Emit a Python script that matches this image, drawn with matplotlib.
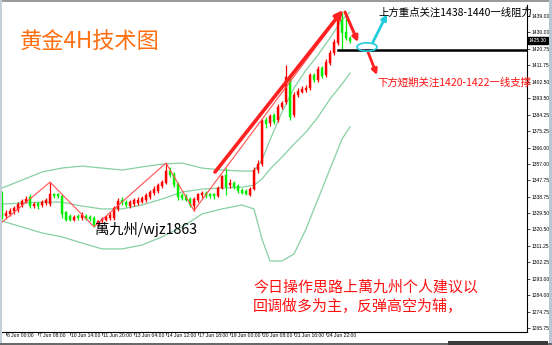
import matplotlib
matplotlib.use("Agg")
import matplotlib.pyplot as plt
from matplotlib.patches import Rectangle, Ellipse
from matplotlib.transforms import blended_transform_factory

plt.rcParams['font.family'] = ['Noto Sans CJK SC', 'DejaVu Sans']

# ---- 4H XAUUSD candles (index 0 = first visible bar) ----
opens = [1334.0, 1328.0, 1329.0, 1330.5, 1331.5, 1334.0, 1336.0, 1338.5, 1333.5, 1335.0,
         1334.0, 1335.0, 1334.5, 1340.0, 1340.0, 1339.0, 1330.0, 1328.0, 1326.0, 1328.0,
         1327.0, 1328.0, 1327.5, 1327.0, 1323.5, 1325.0, 1326.0, 1327.0, 1327.0, 1332.0,
         1337.0, 1336.0, 1333.5, 1334.5, 1335.0, 1336.0, 1337.0, 1338.5, 1340.5, 1342.0,
         1344.5, 1346.5, 1353.0, 1351.5, 1346.0, 1339.5, 1339.0, 1337.5, 1333.5, 1337.0,
         1339.5, 1341.0, 1340.0, 1340.0, 1339.0, 1343.5, 1350.5, 1345.0, 1346.5, 1344.5,
         1342.5, 1342.0, 1339.5, 1343.0, 1353.5, 1357.0, 1381.0, 1379.5, 1384.0, 1381.0,
         1388.5, 1391.0, 1405.0, 1384.0, 1395.0, 1397.0, 1398.0, 1399.0, 1406.0, 1403.5,
         1410.0, 1406.0, 1413.0, 1418.5, 1424.0, 1436.5, 1430.0, 1427.0]
highs = [1342.0, 1331.3, 1332.5, 1333.5, 1336.0, 1337.5, 1339.0, 1340.0, 1336.0, 1336.0,
         1337.0, 1338.0, 1346.8, 1341.0, 1340.5, 1340.0, 1331.0, 1329.0, 1328.5, 1329.0,
         1330.0, 1329.0, 1328.5, 1328.0, 1326.0, 1327.5, 1328.5, 1330.0, 1333.5, 1338.0,
         1338.5, 1337.0, 1337.0, 1338.0, 1338.5, 1339.0, 1341.0, 1342.5, 1344.5, 1346.5,
         1348.0, 1357.4, 1355.0, 1352.5, 1347.0, 1341.0, 1340.0, 1338.5, 1338.5, 1341.0,
         1342.0, 1342.0, 1341.0, 1341.0, 1344.5, 1351.0, 1354.5, 1348.5, 1347.5, 1345.5,
         1343.5, 1343.0, 1344.0, 1355.0, 1359.0, 1382.0, 1383.0, 1384.5, 1385.0, 1390.0,
         1392.0, 1411.8, 1406.0, 1397.0, 1399.0, 1400.0, 1400.5, 1407.5, 1407.5, 1411.0,
         1411.0, 1415.0, 1420.0, 1426.0, 1438.0, 1441.2, 1439.0, 1428.0]
lows = [1326.3, 1326.8, 1328.0, 1329.0, 1330.0, 1333.0, 1335.0, 1332.5, 1332.5, 1332.0,
        1333.0, 1334.0, 1333.5, 1338.0, 1338.0, 1327.0, 1325.0, 1325.0, 1325.0, 1326.0,
        1326.0, 1325.5, 1325.0, 1322.0, 1322.5, 1324.0, 1325.0, 1326.0, 1325.5, 1331.0,
        1334.0, 1333.0, 1332.5, 1333.5, 1334.0, 1335.0, 1336.0, 1337.5, 1339.5, 1341.0,
        1343.5, 1345.5, 1349.5, 1344.0, 1337.0, 1337.0, 1336.5, 1333.0, 1331.0, 1336.0,
        1338.0, 1338.0, 1338.0, 1337.5, 1338.5, 1343.0, 1339.5, 1343.5, 1343.0, 1341.0,
        1340.0, 1339.5, 1339.0, 1342.5, 1352.0, 1356.0, 1377.0, 1378.0, 1379.0, 1380.0,
        1387.5, 1390.0, 1381.5, 1383.0, 1394.0, 1396.0, 1397.0, 1398.0, 1402.5, 1402.5,
        1404.5, 1405.0, 1412.0, 1417.5, 1423.0, 1420.5, 1425.5, 1424.0]
closes = [1327.5, 1329.6, 1331.0, 1332.5, 1334.5, 1336.5, 1337.5, 1333.5, 1334.5, 1333.5,
          1335.5, 1337.0, 1340.0, 1339.0, 1339.0, 1329.0, 1326.0, 1326.0, 1327.5, 1327.0,
          1328.5, 1326.5, 1326.5, 1323.0, 1325.0, 1326.5, 1327.5, 1328.5, 1332.5, 1336.5,
          1335.0, 1334.0, 1335.5, 1337.0, 1337.0, 1338.0, 1339.5, 1341.5, 1343.0, 1345.0,
          1347.0, 1353.0, 1351.0, 1345.0, 1338.5, 1338.0, 1337.0, 1334.0, 1337.5, 1340.0,
          1341.0, 1339.0, 1339.0, 1339.0, 1343.5, 1350.0, 1344.0, 1346.5, 1344.0, 1342.0,
          1340.5, 1340.0, 1343.0, 1353.5, 1357.0, 1380.5, 1379.0, 1383.5, 1380.0, 1388.5,
          1390.5, 1405.0, 1383.0, 1395.0, 1397.5, 1398.5, 1399.0, 1406.0, 1403.5, 1409.5,
          1405.5, 1413.5, 1418.5, 1424.5, 1436.5, 1429.5, 1427.0, 1425.3]

# ---- Bollinger band lines (bar index, price) ----
band_idx = [0, 5, 10, 15, 20, 25, 30, 35, 40, 45, 50, 55, 60, 63, 65, 67, 70, 73, 76, 79, 82, 85, 87]
band_upper = [1343.5, 1347.9, 1352.4, 1354.6, 1355.7, 1354.6, 1353.5, 1355.2, 1356.8, 1357.4,
              1354.6, 1353.5, 1352.9, 1352.9, 1359.1, 1370.2, 1385.7, 1399.0, 1409.0, 1417.3,
              1426.8, 1436.8, 1441.2]
band_middle = [1334.6, 1335.2, 1335.7, 1335.7, 1333.5, 1331.9, 1331.9, 1334.1, 1337.4, 1341.3,
               1342.9, 1343.5, 1344.0, 1345.1, 1348.5, 1354.0, 1360.7, 1367.9, 1374.6, 1382.9,
               1392.9, 1401.2, 1407.3]
band_lower = [1325.2, 1321.9, 1318.6, 1316.4, 1313.0, 1309.7, 1309.7, 1311.9, 1316.4, 1321.9,
              1329.1, 1331.9, 1334.1, 1331.9, 1315.2, 1303.0, 1303.0, 1306.9, 1320.7, 1337.4,
              1354.0, 1370.7, 1377.4]

# ---- ZigZag swing points ----
zz_idx = [0, 12, 23, 41, 48, 85]
zz_price = [1324.5, 1346.8, 1322.0, 1357.4, 1331.0, 1441.2]

# ---- axis labels ----
y_ticks = [1265.75, 1274.75, 1284.00, 1293.00, 1302.25, 1311.25, 1320.50, 1329.50, 1338.75,
           1347.75, 1357.00, 1366.00, 1375.25, 1384.25, 1393.50, 1402.50, 1411.75, 1420.75,
           1430.00, 1439.00]
x_tick_idx = [1, 9, 17, 25, 33, 41, 49, 57, 65, 73, 81]
x_tick_labels = ["6 Jun 00:00", "7 Jun 08:00", "10 Jun 14:00", "11 Jun 20:00", "13 Jun 04:00",
                 "14 Jun 12:00", "17 Jun 18:00", "19 Jun 00:00", "20 Jun 08:00",
                 "21 Jun 16:00", "24 Jun 22:00"]
last_price_label = "1425.30"
support_level = 1420.0

W, H = 552, 345
fig = plt.figure(figsize=(W / 100, H / 100), dpi=100)
fig.patch.set_facecolor("white")
ax = fig.add_axes([0, 1 - 332 / H, 527 / W, (332 - 5) / H])
ax.set_facecolor("white")
ax.set_xlim(-0.5, 131.25)
ax.set_ylim(1263.6, 1445.1)

UP = "#FF0000"
DOWN = "#00EE00"
BAND = "#86D0A2"

# bands
for series in (band_upper, band_middle, band_lower):
    ax.plot(band_idx, series, color=BAND, lw=0.9, zorder=1)

# candles
n = len(closes)
for i in range(n):
    c = UP if closes[i] >= opens[i] else DOWN
    ax.vlines(i, lows[i], highs[i], color=c, lw=0.9, zorder=3)
    lo, hi = min(opens[i], closes[i]), max(opens[i], closes[i])
    ax.add_patch(Rectangle((i - 0.36, lo), 0.72, max(hi - lo, 0.4), facecolor=c,
                           edgecolor=c, lw=0.3, zorder=4))

# zigzag
ax.plot(zz_idx, zz_price, color="#FF5050", lw=0.8, zorder=5)

# support line
ax.plot([84, 131.25], [support_level, support_level], color="black", lw=1.8, zorder=6)

# drawn arrows
def arrow(x0, y0, x1, y1, color, lw, ms):
    ax.annotate("", xy=(x1, y1), xytext=(x0, y0),
                arrowprops=dict(arrowstyle="-|>", color=color, lw=lw,
                                mutation_scale=ms, shrinkA=0, shrinkB=0), zorder=7)

arrow(53.25, 1352.4, 85.25, 1442.3, "#FF2020", 2.6, 11)
arrow(85.75, 1441.2, 89.0, 1424.5, "#FF2020", 2.2, 8)
arrow(91.5, 1419.0, 93.75, 1406.2, "#FF2020", 2.0, 8)
arrow(92.75, 1424.6, 96.25, 1440.1, "#22CCDD", 2.0, 8)
ax.add_patch(Ellipse((91.25, 1421.8), 5.0, 4.6, fill=False, edgecolor="#22CCDD", lw=1.2, zorder=8))

# axes styling
for s in ("top", "left"):
    ax.spines[s].set_visible(False)
for s in ("right", "bottom"):
    ax.spines[s].set_color("black")
    ax.spines[s].set_linewidth(0.8)

ax.yaxis.tick_right()
ax.set_yticks(y_ticks)
ax.set_yticklabels([f"{v:.2f}" for v in y_ticks], fontsize=3.6, family="Liberation Sans")
ax.tick_params(axis="y", length=2.2, width=0.5, pad=1.2, colors="black")
ax.set_xticks(x_tick_idx)
ax.tick_params(axis="x", length=2.5, width=0.5, labelbottom=False)
tr = blended_transform_factory(ax.transData, ax.transAxes)
for xi, lab in zip(x_tick_idx, x_tick_labels):
    ax.text(xi + 0.35, -0.011, lab, transform=tr, ha="left", va="center",
            fontsize=3.6, family="Liberation Sans", clip_on=False)

# last price box
trp = blended_transform_factory(ax.transAxes, ax.transData)
ax.text(1.004, float(last_price_label), last_price_label, transform=trp, ha="left", va="center",
        fontsize=3.6, family="Liberation Sans", color="white", clip_on=False,
        bbox=dict(boxstyle="square,pad=0.25", facecolor="black", edgecolor="black"), zorder=9)

# text annotations (figure pixel positions)
def ftext(x, y, s, **kw):
    fig.text(x / W, 1 - y / H, s, **kw)

ftext(20, 42, "黄金4H技术图", fontsize=16, color="#FF6E10", va="center", ha="left")
ftext(378, 12.5, "上方重点关注1438-1440一线阻力", fontsize=7.5, color="black", va="center", ha="left")
ftext(377, 83, "下方短期关注1420-1422一线支撑", fontsize=7.5, color="#FF1010", va="center", ha="left")
ftext(95, 229, "萬九州/wjz1863", fontsize=10.3, color="black", va="center", ha="left")
ftext(253, 287.5, "今日操作思路上萬九州个人建议以", fontsize=10.8, color="#FF1010", va="center", ha="left")
ftext(253, 306, "回调做多为主，反弹高空为辅，", fontsize=10.8, color="#FF1010", va="center", ha="left")

# window frame
fig.patches.append(Rectangle((0, 1 - 2 / H), 1, 2 / H, transform=fig.transFigure,
                             facecolor="#9A9A9A", edgecolor="none"))
fig.patches.append(Rectangle((0, 0), 1.5 / W, 1, transform=fig.transFigure,
                             facecolor="#C5CFDC", edgecolor="none"))
fig.patches.append(Rectangle((1 - 3 / W, 0), 3 / W, 1, transform=fig.transFigure,
                             facecolor="#BAC6D6", edgecolor="none"))
fig.patches.append(Rectangle((0, 0), 1, 2.5 / H, transform=fig.transFigure,
                             facecolor="#6A6A6A", edgecolor="none"))
fig.patches.append(Rectangle((448 / W, 0), 100 / W, 4.5 / H, transform=fig.transFigure,
                             facecolor="#3A3A3A", edgecolor="none"))

fig.savefig("out.png", dpi=100, facecolor="white")
